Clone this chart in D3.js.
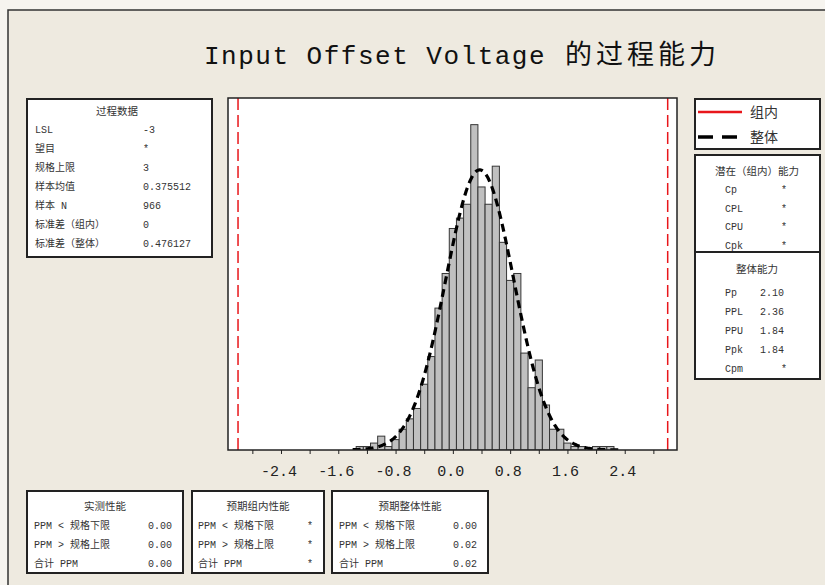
<!DOCTYPE html>
<html><head><meta charset="utf-8">
<script src="https://cdn.jsdelivr.net/npm/d3@7"></script>
<style>body{margin:0;background:#eeeae0}svg{display:block}</style>
</head><body>
<svg id="c" width="825" height="585"></svg>
<script>
// ---- data ----
const binMids = [-1.3,-1.2,-1.1,-1.0,-0.9,-0.8,-0.7,-0.6,-0.5,-0.4,-0.3,-0.2,-0.1,0.0,0.1,0.2,0.3,0.4,0.5,0.6,0.7,0.8,0.9,1.0,1.1,1.2,1.3,1.4,1.5,1.6,1.7,1.8,1.9,2.0,2.1,2.2];
const counts  = [1,1,2,4,1,3,6,9,12,19,27,41,51,64,67,71,94,76,71,82,60,49,51,28,18,26,13,6,6,2,1,1,0,1,1,1];
const binWidth = 0.1;
const LSL = -3, USL = 3, sampleMean = 0.375512, sampleN = 966, sdOverall = 0.476127;
const tickValues = [-2.8,-2.4,-2.0,-1.6,-1.2,-0.8,-0.4,0.0,0.4,0.8,1.2,1.6,2.0,2.4,2.8];
const tickLabels = [-2.4,-1.6,-0.8,0.0,0.8,1.6,2.4];
const titleLatin = "Input Offset Voltage";
const titleCJK = "的过程能力";
const processData = [["LSL","-3"],["望目","*"],["规格上限","3"],["样本均值","0.375512"],["样本 N","966"],["标准差（组内）","0"],["标准差（整体）","0.476127"]];
const potential = [["Cp","*"],["CPL","*"],["CPU","*"],["Cpk","*"]];
const overall = [["Pp","2.10"],["PPL","2.36"],["PPU","1.84"],["Ppk","1.84"],["Cpm","*"]];
const perfTitles = ["实测性能","预期组内性能","预期整体性能"];
const perfLabels = ["PPM < 规格下限","PPM > 规格上限","合计 PPM"];
const perfValues = [["0.00","0.00","0.00"],["*","*","*"],["0.00","0.02","0.02"]];
const legendItems = ["组内","整体"];

// ---- drawing ----
const svg = d3.select("#c");
const mono = "'Liberation Mono','Noto Sans CJK SC',monospace";
const cjk = "'Noto Sans CJK SC','Noto Sans',sans-serif";
svg.append("rect").attr("width",825).attr("height",585).attr("fill","#eeeae0");
svg.append("rect").attr("width",825).attr("height",10).attr("fill","#f6f4ef");
svg.append("rect").attr("width",8).attr("height",585).attr("fill","#f6f4ef");
svg.append("path").attr("d","M8,585V10H825").attr("fill","none").attr("stroke","#333").attr("stroke-width",1.5);

// title
svg.append("text").attr("x",204).attr("y",64).attr("fill","#111")
  .attr("font-family",mono).attr("font-size",26).attr("letter-spacing",1.5).text(titleLatin);
svg.append("text").attr("x",565).attr("y",64).attr("fill","#111")
  .attr("font-family",cjk).attr("font-size",27).attr("letter-spacing",4).text(titleCJK);

// plot
const L=228,R=677,T=98,B=450;
const x = d3.scaleLinear().domain([-3.14,3.13]).range([L,R]);
const y = d3.scaleLinear().domain([0,101.7]).range([B,T]);
svg.append("rect").attr("x",L).attr("y",T).attr("width",R-L).attr("height",B-T).attr("fill","#fff");
svg.append("clipPath").attr("id","pc").append("rect").attr("x",L).attr("y",T).attr("width",R-L).attr("height",B-T);
const g = svg.append("g").attr("clip-path","url(#pc)");
const bins = binMids.map((m,i)=>({m,c:counts[i]})).filter(d=>d.c>0);
g.selectAll("rect.bar").data(bins).join("rect").attr("class","bar")
  .attr("x",d=>x(d.m-binWidth/2)).attr("width",d=>x(d.m+binWidth/2)-x(d.m-binWidth/2))
  .attr("y",d=>y(d.c)).attr("height",d=>B-y(d.c))
  .attr("fill","#c0c0c0").attr("stroke","#363636").attr("stroke-width",1);
// fitted normal (overall)
const pdf = v => sampleN*binWidth/(sdOverall*Math.sqrt(2*Math.PI))*Math.exp(-0.5*((v-sampleMean)/sdOverall)**2);
const xs = d3.range(-1.4,2.32,0.01);
g.append("path").datum(xs).attr("d",d3.line().x(v=>x(v)).y(v=>y(pdf(v))))
  .attr("fill","none").attr("stroke","#000").attr("stroke-width",3.2).attr("stroke-dasharray","8,5");
// spec limits
[LSL,USL].forEach(v=>g.append("line").attr("x1",x(v)).attr("x2",x(v)).attr("y1",T).attr("y2",B)
  .attr("stroke","#e8161b").attr("stroke-width",1.5).attr("stroke-dasharray","12,5"));
svg.append("rect").attr("x",L).attr("y",T).attr("width",R-L).attr("height",B-T).attr("fill","none").attr("stroke","#222").attr("stroke-width",1.5);
// axis
const ax = svg.append("g").attr("transform",`translate(0,${B})`)
  .call(d3.axisBottom(x).tickValues(tickValues).tickSize(4).tickFormat(""));
ax.select(".domain").remove();
ax.selectAll("line").attr("stroke","#222");
svg.append("g").selectAll("text").data(tickLabels).join("text")
  .attr("x",d=>x(d)-2).attr("y",476).attr("text-anchor","middle")
  .attr("font-family",mono).attr("font-size",15).attr("fill","#222")
  .text(d=>d3.format(".1f")(d).replace("−","-"));

function box(x0,y0,x1,y1){
  svg.append("rect").attr("x",x0).attr("y",y0).attr("width",x1-x0).attr("height",y1-y0)
    .attr("fill","#fff").attr("stroke","#222").attr("stroke-width",2);
}
function txt(xp,yp,s,anchor,size,fam){
  svg.append("text").attr("x",xp).attr("y",yp).attr("text-anchor",anchor||"start")
    .attr("font-family",fam||mono).attr("font-size",size||10).attr("fill","#333").text(s);
}
// process data box
box(27,99,212,257);
txt(117,115,"过程数据","middle",10.5,cjk);
processData.forEach((r,i)=>{txt(35,133+i*19,r[0],"start",10,mono);txt(143,133+i*19,r[1],"start",10,mono);});
// legend box
box(695,99,820,149);
svg.append("line").attr("x1",698).attr("x2",742).attr("y1",112).attr("y2",112).attr("stroke","#e8161b").attr("stroke-width",2.5);
svg.append("line").attr("x1",698).attr("x2",742).attr("y1",137).attr("y2",137).attr("stroke","#000").attr("stroke-width",3.5).attr("stroke-dasharray","15,9");
legendItems.forEach((s,i)=>txt(750,117+i*25,s,"start",14,cjk));
// potential / overall capability
box(695,155,820,252);
box(695,252,820,379);
txt(757,175,"潜在（组内）能力","middle",10.5,cjk);
potential.forEach((r,i)=>{txt(725,193+i*18.7,r[0],"start",10,mono);txt(784,193+i*18.7,r[1],"middle",10,mono);});
txt(757,273,"整体能力","middle",10.5,cjk);
overall.forEach((r,i)=>{txt(725,296+i*19,r[0],"start",10,mono);
  txt(r[1]==="*"?784:760,296+i*19,r[1],r[1]==="*"?"middle":"start",10,mono);});
// performance boxes
const pb = [[27,183,34,172],[192,324,198,310],[332,488,339,477]];
pb.forEach((b,k)=>{
  box(b[0],491,b[1],573);
  txt((b[0]+b[1])/2,510,perfTitles[k],"middle",10.5,cjk);
  perfLabels.forEach((l,i)=>{
    txt(b[2],529+i*19,l,"start",10,mono);
    const v = perfValues[k][i];
    txt(b[3],529+i*19,v,v==="*"?"middle":"end",10,mono);
  });
});
</script>
</body></html>
